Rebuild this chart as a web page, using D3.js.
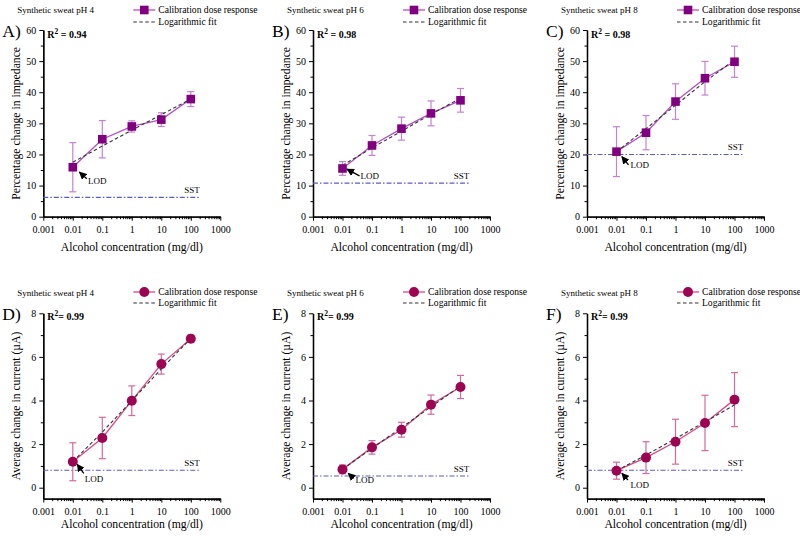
<!DOCTYPE html>
<html>
<head>
<meta charset="utf-8">
<script src="https://cdn.jsdelivr.net/npm/d3@7"></script>
<style>
  body { margin: 0; background: #fff; }
  svg text { font-family: "Liberation Serif", "DejaVu Serif", serif; }
</style>
</head>
<body>
<script>
// alcohol concentrations (mg/dl)
const conc = [0.01, 0.1, 1, 10, 100];
const xMajor = [0.001, 0.01, 0.1, 1, 10, 100, 1000];
const phLabels = ['Synthetic sweat pH 4', 'Synthetic sweat pH 6', 'Synthetic sweat pH 8'];

// impedance (top row)
const impPH4 = [15.9, 24.9, 29.0, 31.2, 37.8];
const impPH4Err = [7.9, 6.0, 1.8, 2.2, 2.4];
const impPH4Fit = [17.5, 22.7, 27.8, 32.8, 37.8];
const impPH6 = [15.5, 22.9, 28.3, 33.2, 37.4];
const impPH6Err = [2.2, 3.2, 3.7, 4.0, 3.8];
const impPH6Fit = [16.5, 22.1, 27.5, 32.9, 38.1];
const impPH8 = [20.9, 27.0, 37.0, 44.5, 49.8];
const impPH8Err = [8.0, 5.5, 5.7, 5.4, 5.0];
const impPH8Fit = [20.9, 28.3, 35.8, 43.4, 50.4];
const impSST = [6.2, 10.8, 20.0];
const impR2 = ['0.94', '0.98', '0.98'];
const impTicks = [0, 10, 20, 30, 40, 50, 60];
const impMinor = [5, 15, 25, 35, 45, 55];

// current (bottom row)
const curPH4 = [1.19, 2.28, 3.99, 5.67, 6.83];
const curPH4Err = [0.87, 0.95, 0.68, 0.46, 0.17];
const curPH4Fit = [1.2, 2.55, 3.99, 5.45, 6.85];
const curPH6 = [0.84, 1.85, 2.66, 3.81, 4.62];
const curPH6Err = [0.2, 0.31, 0.34, 0.44, 0.53];
const curPH6Fit = [0.85, 1.8, 2.76, 3.71, 4.66];
const curPH8 = [0.78, 1.38, 2.11, 2.97, 4.04];
const curPH8Err = [0.39, 0.73, 1.03, 1.27, 1.24];
const curPH8Fit = [0.78, 1.5, 2.25, 3.02, 3.8];
const curSST = [0.80, 0.54, 0.80];
const curR2 = ['0.99', '0.99', '0.99'];
const curTicks = [0, 2, 4, 6, 8];
const curMinor = [1, 3, 5, 7];

const W = 800, H = 537;
const FONT = '"Liberation Serif", "DejaVu Serif", serif';
const colLeft = [43.3, 313, 587];
const plotW = 177;
const rows = [
  { top: 30, bottom: 216.7, domain: [0, 60], ticks: impTicks, minor: impMinor,
    ytitle: 'Percentage change in impedance', marker: 'square',
    line: '#b64ec6', err: '#c780d6', fill: '#800080',
    legY: [10, 22], titleY: 13, xTitleY: 251, r2Y: 38, letterY: 37,
    series: [[impPH4, impPH4Err, impPH4Fit], [impPH6, impPH6Err, impPH6Fit], [impPH8, impPH8Err, impPH8Fit]],
    sst: impSST, r2: impR2, letters: ['A)', 'B)', 'C)'] },
  { top: 313.3, bottom: 498.6, domain: [-0.5, 8], ticks: curTicks, minor: curMinor,
    ytitle: 'Average change in current (\u00b5A)', marker: 'circle',
    line: '#d64a88', err: '#d8689a', fill: '#9b0552',
    legY: [292, 303], titleY: 296, xTitleY: 528, r2Y: 320, letterY: 320,
    series: [[curPH4, curPH4Err, curPH4Fit], [curPH6, curPH6Err, curPH6Fit], [curPH8, curPH8Err, curPH8Fit]],
    sst: curSST, r2: curR2, letters: ['D)', 'E)', 'F)'] }
];
// LOD arrow offsets from the 0.01 point: head, tail, text
const lodOff = [
  [[6.6, 4.9], [14, 11.6], [15.3, 16.6]],
  [[4.4, 0.7], [17, 7.4], [18, 11]],
  [[5.4, 5], [12, 13.3], [14, 16]],
  [[4.4, 2.6], [11, 11.6], [12, 20]],
  [[5.7, 4], [11.3, 9], [13, 14]],
  [[5.4, 2.6], [11.4, 9.3], [14, 17]]
];

const svg = d3.select('body').append('svg')
  .attr('width', W).attr('height', H)
  .attr('font-family', FONT);

svg.append('defs').append('marker')
  .attr('id', 'arrow')
  .attr('viewBox', '0 0 10 10')
  .attr('refX', 9).attr('refY', 5)
  .attr('markerWidth', 6).attr('markerHeight', 6)
  .attr('orient', 'auto-start-reverse')
  .append('path').attr('d', 'M0,0 L10,5 L0,10 z').attr('fill', '#000');

const minorX = [];
xMajor.slice(0, -1).forEach(d => { for (let k = 2; k < 10; k++) minorX.push(d * k); });

function drawMarker(g, shape, x, y, fill) {
  if (shape === 'square') {
    g.append('rect').attr('x', x - 4.3).attr('y', y - 4.3).attr('width', 8.6).attr('height', 8.6)
      .attr('fill', fill);
  } else {
    g.append('circle').attr('cx', x).attr('cy', y).attr('r', 5).attr('fill', fill);
  }
}

rows.forEach((row, ri) => {
  row.series.forEach(([vals, errs, fit], ci) => {
    const left = colLeft[ci];
    const x = d3.scaleLog().domain([0.001, 1000]).range([left, left + plotW]);
    const y = d3.scaleLinear().domain(row.domain).range([row.bottom, row.top]);
    const g = svg.append('g');

    // axes
    const xAxis = g.append('g').attr('transform', `translate(0,${row.bottom})`)
      .call(d3.axisBottom(x).tickValues(xMajor).tickFormat(d => String(d)).tickSize(4).tickSizeOuter(0));
    g.append('g').attr('transform', `translate(0,${row.bottom})`)
      .call(d3.axisBottom(x).tickValues(minorX).tickFormat('').tickSize(2.5).tickSizeOuter(0));
    g.append('g').attr('transform', `translate(${left},0)`)
      .call(d3.axisLeft(y).tickValues(row.ticks).tickSize(4).tickSizeOuter(0));
    g.append('g').attr('transform', `translate(${left},0)`)
      .call(d3.axisLeft(y).tickValues(row.minor).tickFormat('').tickSize(2.5).tickSizeOuter(0));
    g.selectAll('g').attr('font-family', FONT);
    g.selectAll('.domain').attr('stroke', '#000').attr('stroke-width', 1.3);
    g.selectAll('.tick line').attr('stroke', '#000');
    g.selectAll('.tick text').attr('font-size', 10).attr('fill', '#000');
    xAxis.selectAll('.tick text').attr('dy', '0.95em');

    // SST line
    const ySST = y(row.sst[ci]);
    g.append('line').attr('x1', left).attr('x2', x(200))
      .attr('y1', ySST).attr('y2', ySST)
      .attr('stroke', '#5b5bd0').attr('stroke-width', 1.1)
      .attr('stroke-dasharray', '5,2,1.5,2');
    g.append('text').attr('x', x(200)).attr('y', ySST - 4)
      .attr('text-anchor', 'end').attr('font-size', 9).text('SST');

    // error bars
    conc.forEach((c, i) => {
      const cx = x(c);
      const y1 = y(vals[i] + errs[i]), y2 = y(vals[i] - errs[i]);
      g.append('line').attr('x1', cx).attr('x2', cx).attr('y1', y1).attr('y2', y2)
        .attr('stroke', row.err).attr('stroke-width', 1.2);
      [y1, y2].forEach(yy => g.append('line').attr('x1', cx - 3.5).attr('x2', cx + 3.5)
        .attr('y1', yy).attr('y2', yy).attr('stroke', row.err).attr('stroke-width', 1.2));
    });

    // data line and fit
    const lineGen = d3.line().x((d, i) => x(conc[i])).y(d => y(d));
    g.append('path').attr('d', lineGen(vals)).attr('fill', 'none')
      .attr('stroke', row.line).attr('stroke-width', 1.3);
    g.append('path').attr('d', lineGen(fit)).attr('fill', 'none')
      .attr('stroke', '#333').attr('stroke-width', 1.1).attr('stroke-dasharray', '3.5,2.5');

    conc.forEach((c, i) => drawMarker(g, row.marker, x(c), y(vals[i]), row.fill));

    // LOD annotation
    const [head, tail, txt] = lodOff[ri * 3 + ci];
    const px = x(conc[0]), py = y(vals[0]);
    g.append('line').attr('x1', px + tail[0]).attr('y1', py + tail[1])
      .attr('x2', px + head[0]).attr('y2', py + head[1])
      .attr('stroke', '#000').attr('stroke-width', 1.3).attr('marker-end', 'url(#arrow)');
    g.append('text').attr('x', px + txt[0]).attr('y', py + txt[1])
      .attr('font-size', 9).text('LOD');

    // R squared
    const r2 = g.append('text').attr('x', left + 4).attr('y', row.r2Y)
      .attr('font-size', 10).attr('font-weight', 'bold');
    r2.append('tspan').text('R');
    r2.append('tspan').attr('dy', -4).attr('font-size', 7.5).text('2');
    r2.append('tspan').attr('dy', 4).text((ri === 0 ? ' = ' : '= ') + row.r2[ci]);

    // titles
    g.append('text').attr('x', left - 26).attr('y', row.titleY).attr('font-size', 9).text(phLabels[ci]);
    g.append('text').attr('x', left - 41).attr('y', row.letterY).attr('font-size', 17.5).text(row.letters[ci]);
    g.append('text').attr('transform', `translate(${left - 27},${(row.top + row.bottom) / 2}) rotate(-90)`)
      .attr('text-anchor', 'middle').attr('dy', '0.35em').attr('font-size', 11.7).text(row.ytitle);
    g.append('text').attr('x', left + plotW / 2).attr('y', row.xTitleY)
      .attr('text-anchor', 'middle').attr('font-size', 11.7).text('Alcohol concentration (mg/dl)');

    // legend
    const lx = left + 90;
    g.append('line').attr('x1', lx).attr('x2', lx + 22).attr('y1', row.legY[0]).attr('y2', row.legY[0])
      .attr('stroke', row.line).attr('stroke-width', 1.3);
    drawMarker(g, row.marker, lx + 11, row.legY[0], row.fill);
    g.append('text').attr('x', lx + 25).attr('y', row.legY[0]).attr('dy', '0.33em')
      .attr('font-size', 9.6).text('Calibration dose response');
    g.append('line').attr('x1', lx).attr('x2', lx + 22).attr('y1', row.legY[1]).attr('y2', row.legY[1])
      .attr('stroke', '#333').attr('stroke-width', 1.1).attr('stroke-dasharray', '3.5,2.5');
    g.append('text').attr('x', lx + 25).attr('y', row.legY[1]).attr('dy', '0.33em')
      .attr('font-size', 9.6).text('Logarithmic fit');
  });
});
</script>
</body>
</html>
